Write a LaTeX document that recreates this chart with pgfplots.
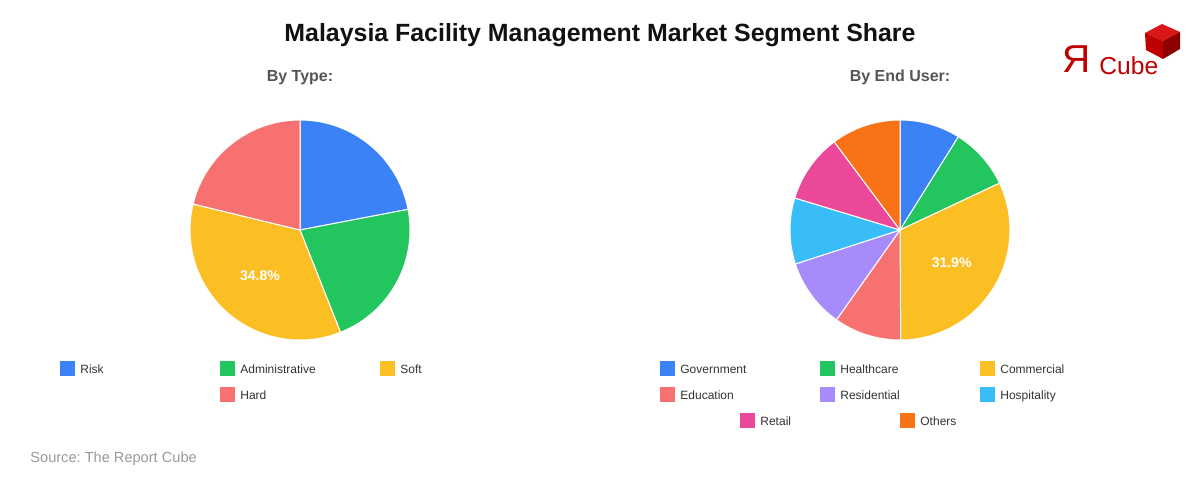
\documentclass[border=0pt]{standalone}
\usepackage{pgfplots}
\pgfplotsset{compat=1.18}
\usepackage{pgfplotstable}
\usepackage{fontspec}
\setmainfont{Liberation Sans}
\frenchspacing

\definecolor{cBlue}{HTML}{3B82F6}
\definecolor{cGreen}{HTML}{22C55E}
\definecolor{cYellow}{HTML}{FBBF24}
\definecolor{cRed}{HTML}{F87171}
\definecolor{cPurple}{HTML}{A78BFA}
\definecolor{cCyan}{HTML}{38BDF8}
\definecolor{cPink}{HTML}{EC4899}
\definecolor{cOrange}{HTML}{F97316}
\definecolor{titlecol}{HTML}{111111}
\definecolor{subcol}{HTML}{555555}
\definecolor{legcol}{HTML}{333333}
\definecolor{srccol}{HTML}{999999}
\definecolor{logored}{HTML}{C00000}
\definecolor{cubetop}{HTML}{D81818}
\definecolor{cubeleft}{HTML}{C00000}
\definecolor{cuberight}{HTML}{8E0000}

\pgfplotstableread{
name value col
Risk 22.0 cBlue
Administrative 22.0 cGreen
Soft 34.8 cYellow
Hard 21.2 cRed
}\typetable

\pgfplotstableread{
name value col
Government 8.9 cBlue
Healthcare 9.1 cGreen
Commercial 31.9 cYellow
Education 9.9 cRed
Residential 10.2 cPurple
Hospitality 9.7 cCyan
Retail 10.1 cPink
Others 10.2 cOrange
}\usertable

% draws a pie from a table: #1 table, #2 cx, #3 cy (axis units)
\newcommand{\drawpie}[3]{%
  \pgfplotstablegetrowsof{#1}%
  \pgfmathtruncatemacro\lastrow{\pgfplotsretval-1}%
  \gdef\cum{0}%
  \foreach \i in {0,...,\lastrow}{%
    \pgfplotstablegetelem{\i}{value}\of{#1}\let\v\pgfplotsretval
    \pgfplotstablegetelem{\i}{col}\of{#1}\let\c\pgfplotsretval
    \pgfmathsetmacro\sa{90-3.6*\cum}%
    \pgfmathsetmacro\ea{90-3.6*(\cum+\v)}%
    \pgfmathsetmacro\ma{(\sa+\ea)/2}%
    \edef\temp{\noexpand\fill[\c, draw=white, line width=0.5pt] (axis cs:#2,#3) -- ++(\sa:55pt) arc[start angle=\sa, end angle=\ea, radius=55pt] -- cycle;}%
    \temp
    \pgfmathparse{\v>30 ? 1 : 0}%
    \ifnum\pgfmathresult=1
      \edef\temp{\noexpand\path (axis cs:#2,#3) ++(\ma:30.5pt) node[text=white, font=\noexpand\bfseries\noexpand\fontsize{7}{8}\noexpand\selectfont] {\v\noexpand\%};}%
      \temp
    \fi
    \pgfmathsetmacro\newcum{\cum+\v}\xdef\cum{\newcum}%
  }%
}

\newcommand{\legitem}[4]{% x, baseline y, color, text
  \fill[#3] (axis cs:#1,#2-2.5) rectangle (axis cs:#1+15,#2+12.5);
  \node[anchor=base west, inner sep=0pt, text=legcol, font=\fontsize{6}{7}\selectfont] at (axis cs:#1+20,#2) {#4};
}

\begin{document}
\begin{tikzpicture}
\begin{axis}[
  hide axis, scale only axis,
  width=600pt, height=240pt,
  xmin=0, xmax=1200, ymin=0, ymax=480,
  clip=false,
]
\path[fill=white] (axis cs:0,0) rectangle (axis cs:1200,480);

% title
\node[anchor=base, text=titlecol, font=\bfseries\fontsize{12.45}{14}\selectfont] at (axis cs:600,438) {Malaysia Facility Management Market Segment Share};

% subtitles
\node[anchor=base, text=subcol, font=\bfseries\fontsize{8}{9}\selectfont] at (axis cs:300,398) {By Type:};
\node[anchor=base, text=subcol, font=\bfseries\fontsize{8}{9}\selectfont] at (axis cs:900,398) {By End User:};

% pies
\drawpie{\typetable}{300}{250}
\drawpie{\usertable}{900}{250}

% legends
\legitem{60}{106}{cBlue}{Risk}
\legitem{220}{106}{cGreen}{Administrative}
\legitem{380}{106}{cYellow}{Soft}
\legitem{220}{80}{cRed}{Hard}

\legitem{660}{106}{cBlue}{Government}
\legitem{820}{106}{cGreen}{Healthcare}
\legitem{980}{106}{cYellow}{Commercial}
\legitem{660}{80}{cRed}{Education}
\legitem{820}{80}{cPurple}{Residential}
\legitem{980}{80}{cCyan}{Hospitality}
\legitem{740}{54}{cPink}{Retail}
\legitem{900}{54}{cOrange}{Others}

% source
\node[anchor=base west, inner sep=0pt, text=srccol, font=\fontsize{7.3}{8}\selectfont] at (axis cs:30,17) {Source: The Report Cube};

% logo
\node[anchor=base west, inner sep=0pt, text=logored, font=\fontsize{19.5}{21}\selectfont] at (axis cs:1062,407) {Я};
\node[anchor=base west, inner sep=0pt, text=logored, font=\fontsize{12.3}{14}\selectfont] at (axis cs:1099,405) {Cube};
\fill[cubetop] (axis cs:1162,456) -- (axis cs:1180,448) -- (axis cs:1163,439) -- (axis cs:1145,447) -- cycle;
\fill[cubeleft] (axis cs:1145,447) -- (axis cs:1163,439) -- (axis cs:1163,421) -- (axis cs:1146,430) -- cycle;
\fill[cuberight] (axis cs:1163,439) -- (axis cs:1180,448) -- (axis cs:1180,431) -- (axis cs:1163,421) -- cycle;
\end{axis}
\end{tikzpicture}
\end{document}
